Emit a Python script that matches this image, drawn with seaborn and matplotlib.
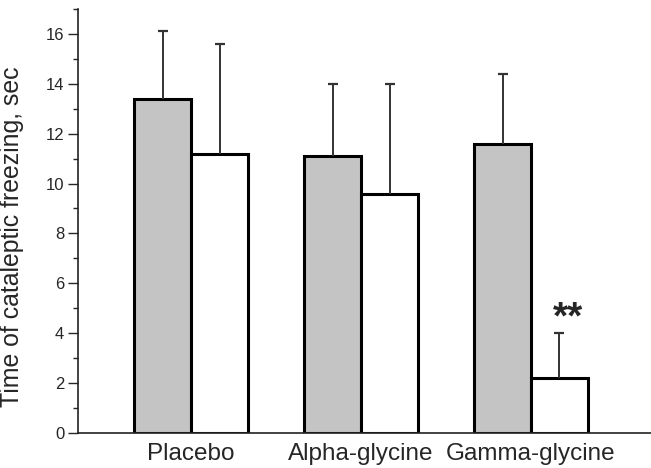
import matplotlib
matplotlib.use("Agg")
import matplotlib.pyplot as plt
import seaborn as sns
import pandas as pd
import numpy as np
from matplotlib.ticker import MultipleLocator

groups = ["Placebo", "Alpha-glycine", "Gamma-glycine"]
conditions = ["Before", "After"]
means_before = [13.4, 11.1, 11.6]
means_after = [11.2, 9.6, 2.2]
err_before = [2.7, 2.9, 2.8]
err_after = [4.4, 4.4, 1.8]
annot_text = "**"

rows = []
for g, mb, ma in zip(groups, means_before, means_after):
    rows.append({"group": g, "cond": conditions[0], "value": mb})
    rows.append({"group": g, "cond": conditions[1], "value": ma})
df = pd.DataFrame(rows)

sns.set_style("ticks")
plt.rcParams["font.family"] = ["Liberation Sans", "DejaVu Sans"]

fig = plt.figure(figsize=(6.51, 4.68), dpi=100)
ax = fig.add_axes([0.12, 0.0748, 0.88, 0.9062])

sns.barplot(data=df, x="group", y="value", hue="cond", order=groups,
            hue_order=conditions, palette=["#c4c4c4", "#ffffff"],
            width=0.67, gap=0, edgecolor="black", linewidth=2.2,
            errorbar=None, legend=False, ax=ax, saturation=1)

# error bars (upper only)
for cont, errs in zip(ax.containers, [err_before, err_after]):
    for patch, e in zip(cont.patches, errs):
        xc = patch.get_x() + patch.get_width() / 2
        h = patch.get_height()
        eb = ax.errorbar([xc], [h], yerr=[[0], [e]], fmt="none", ecolor="#333333",
                         elinewidth=1.4, capsize=3.6, capthick=1.6, zorder=1)
        caps = eb.lines[1]
        if len(caps) == 2:
            caps[0].set_visible(False)

# significance marker above last "after" bar
last = ax.containers[1].patches[2]
ax.text(last.get_x() + last.get_width() / 2 + 0.05, 4.18, annot_text,
        ha="center", va="baseline", fontsize=28, fontweight="bold")

ax.set_xlim(-0.665, 2.706)
ax.set_ylim(0, 17)
ax.yaxis.set_major_locator(MultipleLocator(2))
ax.yaxis.set_minor_locator(MultipleLocator(1))
ax.tick_params(axis="y", which="major", length=7, width=1, labelsize=12, direction="out", pad=3)
ax.tick_params(axis="y", which="minor", length=3.5, width=1, direction="out")
ax.tick_params(axis="x", length=0, labelsize=17.5, pad=7)
ax.set_xlabel("")
ax.set_ylabel("Time of cataleptic freezing, sec", fontsize=17.9, labelpad=4)
ax.yaxis.set_label_coords(-0.095, 0.462)
sns.despine(ax=ax, top=True, right=True)
for s in ["left", "bottom"]:
    ax.spines[s].set_linewidth(1.2)
    ax.spines[s].set_color("#222222")

fig.savefig("out.png", dpi=100)
